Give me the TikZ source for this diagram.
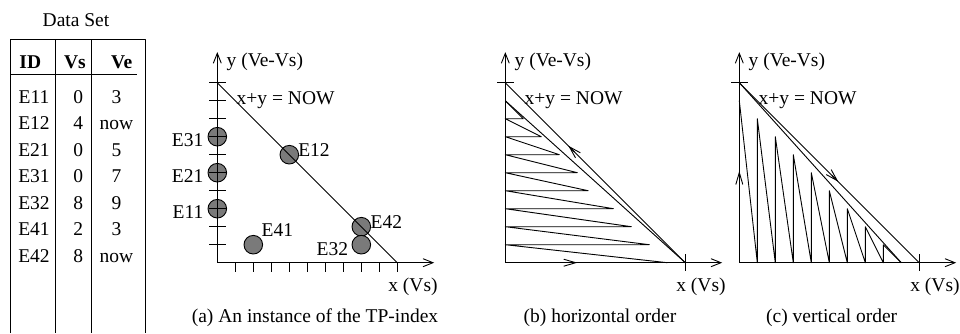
\documentclass[tikz,border=0pt]{standalone}
\usepackage{fontspec}
\setmainfont{Liberation Serif}
\usetikzlibrary{arrows.meta}
\newcommand\myfs{\fontsize{19.5}{22}\selectfont}
\begin{document}
\begin{tikzpicture}[x=1pt,y=-1pt,
  every node/.style={inner sep=0pt, outer sep=0pt, font=\myfs},
  ln/.style={line width=0.9pt, line join=round},
  axisarrow/.style={ln,-{Straight Barb[length=10pt,width=8pt]}},
  midarrow/.style={ln,-{Straight Barb[length=12pt,width=7pt]}},
  ent/.style={circle, draw, fill=black!52, minimum size=18.6pt, line width=0.9pt},
  hd/.style={font=\myfs\bfseries, anchor=base},
  cell/.style={anchor=base},
]
\useasboundingbox (0,0) rectangle (960,333);

% ---------------- table ----------------
\node[anchor=base] (title) at (76,26.7) {Data Set};
\draw[ln] (10.7,333) -- (10.7,39) -- (145.7,39) -- (145.7,333);
\draw[ln] (55.7,39) -- (55.7,333);
\draw[ln] (91.7,39) -- (91.7,333);
\draw[ln] (10.7,74) -- (136.7,74);
\node[hd] (hid) at (30.3,68.3) {ID};
\node[hd] (hvs) at (75,68.3) {Vs};
\node[hd] (hve) at (121.7,68.3) {Ve};
\node[cell] (id1) at (34,103.3) {E11};
\node[cell] (vs1) at (78.3,103.3) {0};
\node[cell] (ve1) at (116.5,103.3) {3};
\node[cell] (id2) at (34,129.8) {E12};
\node[cell] (vs2) at (78.3,129.8) {4};
\node[cell] (ve2) at (116.5,129.8) {now};
\node[cell] (id3) at (34,156.2) {E21};
\node[cell] (vs3) at (78.3,156.2) {0};
\node[cell] (ve3) at (116.5,156.2) {5};
\node[cell] (id4) at (34,182.7) {E31};
\node[cell] (vs4) at (78.3,182.7) {0};
\node[cell] (ve4) at (116.5,182.7) {7};
\node[cell] (id5) at (34,209.1) {E32};
\node[cell] (vs5) at (78.3,209.1) {8};
\node[cell] (ve5) at (116.5,209.1) {9};
\node[cell] (id6) at (34,235.6) {E41};
\node[cell] (vs6) at (78.3,235.6) {2};
\node[cell] (ve6) at (116.5,235.6) {3};
\node[cell] (id7) at (34,262) {E42};
\node[cell] (vs7) at (78.3,262) {8};
\node[cell] (ve7) at (116.5,262) {now};

% ---------------- panel (a) ----------------
\begin{scope}[shift={(217.3,262.7)}, x=18pt, y=18pt]
  \foreach \n/\px/\py in {e11/0/3,e21/0/5,e31/0/7,e12/4/6,e41/2/1,e42/8/2,e32/8/1}
    \node[ent] (\n) at (\px,\py) {};
  \coordinate (oa) at (0,0);
  \coordinate (ya) at (0,11.7);
  \coordinate (xa) at (12.05,0);
  \coordinate (ta) at (0,10);
  \coordinate (ra) at (10,0);
  \draw[axisarrow] (oa) -- (ya);
  \draw[axisarrow] (oa) -- (xa);
  \foreach \k in {1,...,10}{
    \draw[ln] (-0.46,\k) -- (0.46,\k);
    \draw[ln] (\k,0) -- (\k,-0.5);
  }
  \draw[ln] (ta) -- (ra);
\end{scope}
\node[anchor=base west] (ya-l) at (226.7,66) {y (Ve-Vs)};
\node[anchor=base west] (na-l) at (236.7,104.5) {x+y = NOW};
\node[anchor=base west] (xa-l) at (388.3,291) {x (Vs)};
\node[anchor=base] (cap-a) at (315,322) {(a) An instance of the TP-index};
\node[anchor=base east] (l31) at (203.3,146) {E31};
\node[anchor=base east] (l21) at (203.3,182.7) {E21};
\node[anchor=base east] (l11) at (203.3,218) {E11};
\node[anchor=base west] (l12) at (298.3,156.7) {E12};
\node[anchor=base west] (l42) at (370.7,228.3) {E42};
\node[anchor=base west] (l41) at (261.7,236.7) {E41};
\node[anchor=base west] (l32) at (316.7,255) {E32};

% ---------------- panel (b) ----------------
\begin{scope}[shift={(505.3,262.7)}, x=18pt, y=18pt]
  \coordinate (ob) at (0,0);
  \coordinate (yb) at (0,11.7);
  \coordinate (xb) at (12.05,0);
  \coordinate (tb) at (0,10);
  \coordinate (rb) at (10,0);
  \coordinate (ib) at (0,9);
  \draw[axisarrow] (ob) -- (yb);
  \draw[axisarrow] (ob) -- (xb);
  \draw[ln] (-0.46,10) -- (0.46,10);
  \draw[ln] (10,-0.46) -- (10,0.46);
  \draw[ln] (tb) -- (rb);
  \draw[ln] (rb) -- (ib);
  \draw[ln] (ib) -- (1,8) -- (0,8) -- (2,7) -- (0,7) -- (3,6) -- (0,6) -- (4,5) -- (0,5)
     -- (4.6,4) -- (0,4) -- (6,3) -- (0,3) -- (7,2) -- (0,2) -- (8,1) -- (0,1) -- (9,0);
  \draw[midarrow] (3.2,0) -- (4,0);
  \draw[midarrow] (3.85,6.15) -- (3.5,6.5);
\end{scope}
\node[anchor=base west] (yb-l) at (514.7,66) {y (Ve-Vs)};
\node[anchor=base west] (nb-l) at (524.7,104.5) {x+y = NOW};
\node[anchor=base west] (xb-l) at (676.3,291) {x (Vs)};
\node[anchor=base] (cap-b) at (600,322) {(b) horizontal order};

% ---------------- panel (c) ----------------
\begin{scope}[shift={(739.3,262.7)}, x=18pt, y=18pt]
  \coordinate (oc) at (0,0);
  \coordinate (yc) at (0,11.7);
  \coordinate (xc) at (12.05,0);
  \coordinate (tc) at (0,10);
  \coordinate (rc) at (10,0);
  \coordinate (ic) at (9,0);
  \draw[axisarrow] (oc) -- (yc);
  \draw[axisarrow] (oc) -- (xc);
  \draw[ln] (-0.46,10) -- (0.46,10);
  \draw[ln] (10,-0.46) -- (10,0.46);
  \draw[ln] (tc) -- (rc);
  \draw[ln] (tc) -- (ic);
  \draw[ln] (0,9) -- (1,0) -- (1,8) -- (2,0) -- (2,7) -- (3,0) -- (3,6) -- (4,0) -- (4,5)
     -- (5,0) -- (5,4) -- (6,0) -- (6,3) -- (7,0) -- (7,2) -- (8,0) -- (8,1) -- (ic);
  \draw[midarrow] (0,4.4) -- (0,5.1);
  \draw[midarrow] (5.15,4.85) -- (5.5,4.5);
\end{scope}
\node[anchor=base west] (yc-l) at (748.7,66) {y (Ve-Vs)};
\node[anchor=base west] (nc-l) at (758.7,104.5) {x+y = NOW};
\node[anchor=base west] (xc-l) at (910.3,291) {x (Vs)};
\node[anchor=base] (cap-c) at (831.7,322) {(c) vertical order};
\end{tikzpicture}
\end{document}
